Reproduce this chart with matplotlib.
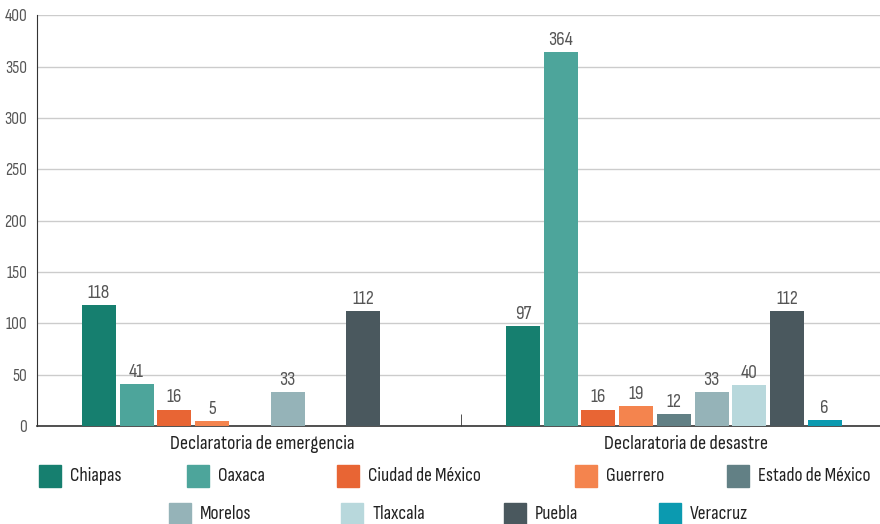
import numpy as np
import matplotlib
matplotlib.use('Agg')
import matplotlib.pyplot as plt
from matplotlib.patches import Rectangle
from matplotlib.transforms import ScaledTranslation

plt.rcParams['font.family'] = ['Sofia Sans Condensed', 'Sofia Sans Semi Condensed', 'DejaVu Sans']

# Datos
grupos = ['Declaratoria de emergencia', 'Declaratoria de desastre']
estados = ['Chiapas', 'Oaxaca', 'Ciudad de México', 'Guerrero', 'Estado de México',
           'Morelos', 'Tlaxcala', 'Puebla', 'Veracruz']
emergencia = [118, 41, 16, 5, 0, 33, 0, 112, 0]
desastre = [97, 364, 16, 19, 12, 33, 40, 112, 6]
colores = ['#167f6f', '#4da59b', '#e86534', '#f4844e', '#628085',
           '#95b3b8', '#b8d8dc', '#4a585e', '#0b9ab0']

valores = np.array([emergencia, desastre])  # (grupo, estado)

fig = plt.figure(figsize=(8.8, 5.24), dpi=100)
ax = fig.add_axes([0.042, 0.187, 0.9636, 0.784])

x = np.arange(len(grupos))
paso = 0.089
ancho = 0.0802
for i, est in enumerate(estados):
    pos = x + (i - 4) * paso + 0.002
    vals = valores[:, i]
    ax.bar(pos, vals, width=ancho, color=colores[i], zorder=3)
    for p, v in zip(pos, vals):
        if v > 0:
            ax.text(p, v + 3, str(v), ha='center', va='bottom', fontsize=14, color='#555555')

ax.set_xlim(-0.5, 1.5)
ax.set_ylim(0, 400)
ax.set_yticks(np.arange(0, 401, 50))
ax.tick_params(axis='y', length=0, labelsize=12.5, labelcolor='#555555', pad=7)
ax.set_xticks(x)
ax.set_xticklabels(grupos, fontsize=14.5, color='#222222')
ax.tick_params(axis='x', length=0, pad=5)
# etiquetas de categoria algo desplazadas a la derecha, como en el original
desp = ScaledTranslation(0.13, -0.02, fig.dpi_scale_trans)
for lbl in ax.get_xticklabels():
    lbl.set_transform(lbl.get_transform() + desp)
ax.set_xticks([0.5], minor=True)
ax.tick_params(axis='x', which='minor', direction='in', length=9, color='#333333')
ax.grid(axis='y', color='#cccccc', linewidth=1, zorder=0)
ax.spines['top'].set_visible(False)
ax.spines['right'].set_visible(False)
ax.spines['left'].set_color('#333333')
ax.spines['left'].set_linewidth(0.8)
ax.spines['bottom'].set_color('#333333')
ax.spines['bottom'].set_linewidth(1.2)

# Leyenda manual en dos filas
fila1_x = [39, 187, 337, 575, 727]
fila2_x = [169, 341, 504, 659]
W, H = 880, 524
posiciones = [(px, 476) for px in fila1_x] + [(px, 514) for px in fila2_x]
for (px, py), est, c in zip(posiciones, estados, colores):
    fig.add_artist(Rectangle((px / W, 1 - (py + 11) / H), 22 / W, 22 / H,
                             transform=fig.transFigure, color=c))
    fig.text((px + 31) / W, 1 - py / H, est, ha='left', va='center',
             fontsize=14, color='#222222')

fig.savefig('out.png', dpi=100)
